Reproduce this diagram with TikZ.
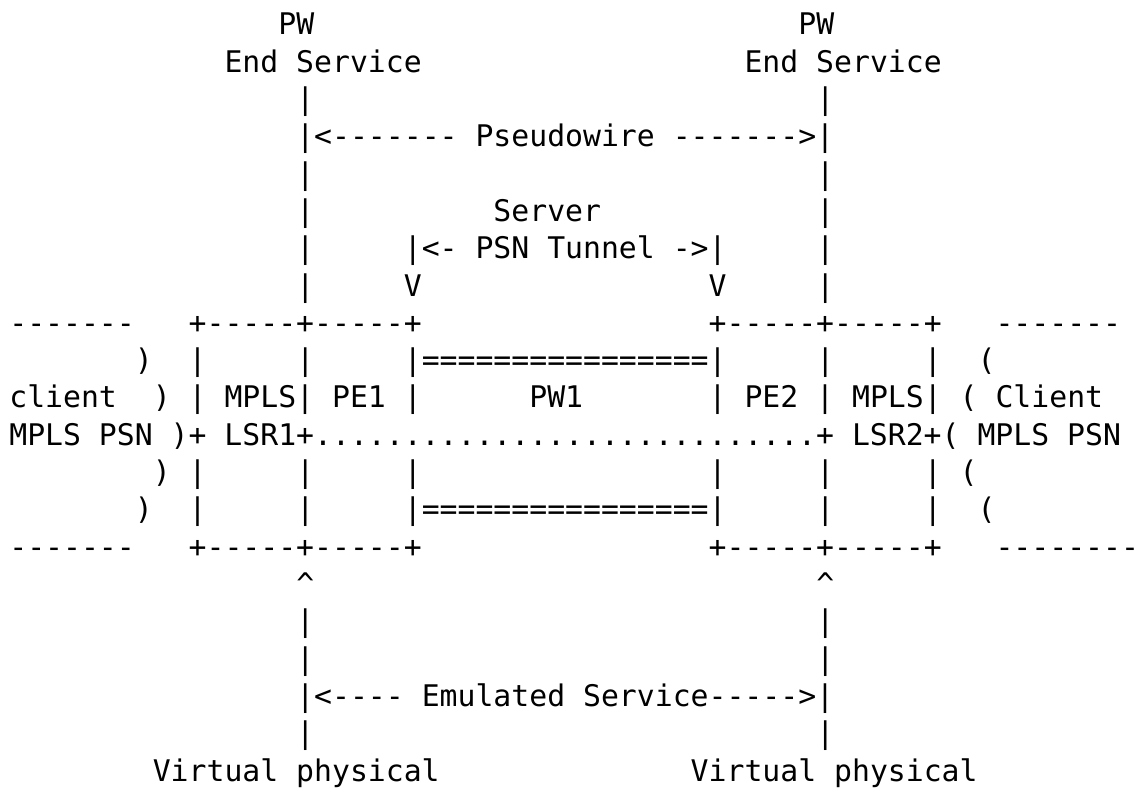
\documentclass[tikz,border=0pt]{standalone}
\usepackage{fontspec}
\setmonofont{DejaVu Sans Mono}
\begin{document}
\begin{tikzpicture}[x=1pt,y=1pt,
  ascii/.style={anchor=base west, inner sep=0pt, outer sep=0pt,
    font=\ttfamily\fontsize{29.93pt}{37.5pt}\selectfont, text=black}]
  % canvas
  \fill[white] (0,0) rectangle (1139,-795);
  % character grid: column width 18.02, line pitch 37.5
  \foreach \r/\c/\t in {
    0/15/{PW}, 0/44/{PW},
    1/12/{End Service}, 1/41/{End Service},
    2/16/{|}, 2/45/{|},
    3/16/{|<------- Pseudowire ------->|},
    4/16/{|}, 4/45/{|},
    5/16/{|}, 5/27/{Server}, 5/45/{|},
    6/16/{|}, 6/22/{|<- PSN Tunnel ->|}, 6/45/{|},
    7/16/{|}, 7/22/{V}, 7/39/{V}, 7/45/{|},
    8/0/{-------}, 8/10/{+-----+-----+}, 8/39/{+-----+-----+}, 8/55/{-------},
    9/7/{)}, 9/10/{|}, 9/16/{|}, 9/22/{|================|}, 9/45/{|}, 9/51/{|}, 9/54/{(},
    10/0/{client}, 10/8/{)}, 10/10/{| MPLS| PE1 |}, 10/29/{PW1}, 10/39/{| PE2 | MPLS|}, 10/53/{( Client},
    11/0/{MPLS PSN )+ LSR1+............................+ LSR2+( MPLS PSN},
    12/8/{)}, 12/10/{|}, 12/16/{|}, 12/22/{|}, 12/39/{|}, 12/45/{|}, 12/51/{|}, 12/53/{(},
    13/7/{)}, 13/10/{|}, 13/16/{|}, 13/22/{|================|}, 13/45/{|}, 13/51/{|}, 13/54/{(},
    14/0/{-------}, 14/10/{+-----+-----+}, 14/39/{+-----+-----+}, 14/55/{--------},
    15/16/{\textasciicircum}, 15/45/{\textasciicircum},
    16/16/{|}, 16/45/{|},
    17/16/{|}, 17/45/{|},
    18/16/{|<---- Emulated Service----->|},
    19/16/{|}, 19/45/{|},
    20/8/{Virtual physical}, 20/38/{Virtual physical}}
    \node[ascii] (t\r-\c) at ({9.4+\c*18.02},{-35-\r*37.5}) {\t};
  \useasboundingbox (0,0) rectangle (1139,-795);
\end{tikzpicture}
\end{document}
